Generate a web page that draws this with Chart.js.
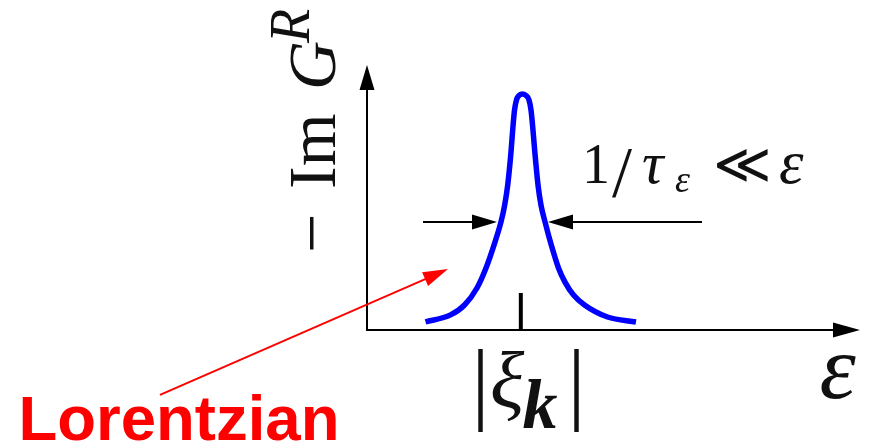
<!DOCTYPE html>
<html><head><meta charset="utf-8">
<script src="https://cdn.jsdelivr.net/npm/chart.js@4"></script>
<style>html,body{margin:0;padding:0;background:#fff;overflow:hidden}canvas{display:block}</style>
</head><body>
<canvas id="c" width="871" height="443"></canvas>
<script>
// ---- data (energy in arbitrary units, spectral weight normalised to peak) ----
const curveEnergy   = [1.187, 1.694, 1.978, 2.231, 2.414, 2.576, 2.718, 2.793, 2.854, 2.921, 2.955, 2.992, 3.032, 3.073, 3.154,
                       3.235, 3.286, 3.327, 3.367, 3.404, 3.469, 3.529, 3.611, 3.738, 3.884, 4.016, 4.189, 4.412, 4.878, 5.456];
const curveSpectral = [0.034, 0.064, 0.106, 0.178, 0.263, 0.360, 0.458, 0.530, 0.614, 0.754, 0.847, 0.932, 0.975, 0.992, 1.000,
                       0.992, 0.975, 0.932, 0.847, 0.754, 0.614, 0.530, 0.458, 0.360, 0.263, 0.203, 0.148, 0.106, 0.055, 0.034];
const peakEnergy = 3.12;          // |xi_k|
const peakTickHeight = 0.157;
const halfWidthLevel = 0.458;
const widthArrowTails = [1.136, 6.795];
const widthArrowTips  = [2.637, 3.671];
const pointerTail = [-4.199, -0.275];
const pointerTip  = [1.643, 0.258];
const xRange = [0, 10];
const yRange = [0, 1.123];

// ---- text ----
const yLabelParts = ['\u2212', 'Im', 'G', 'R'];
const widthLabelParts = ['1', '/', '\u03C4', '\u03B5', '\u226A', '\u03B5'];
const peakLabelParts = ['|', '\u03BE', 'k', '|'];
const xAxisLabel = '\u03B5';
const calloutLabel = 'Lorentzian';

const SERIF = "'Liberation Serif','DejaVu Serif',serif";

function arrow(ctx, x1, y1, x2, y2, len, half, color, lw) {
  const a = Math.atan2(y2 - y1, x2 - x1);
  const bx = x2 - Math.cos(a) * len, by = y2 - Math.sin(a) * len;
  ctx.save();
  ctx.strokeStyle = color; ctx.fillStyle = color; ctx.lineWidth = lw; ctx.lineCap = 'butt';
  ctx.beginPath(); ctx.moveTo(x1, y1); ctx.lineTo(bx + Math.cos(a) * 2, by + Math.sin(a) * 2); ctx.stroke();
  ctx.beginPath();
  ctx.moveTo(x2, y2);
  ctx.lineTo(bx + Math.sin(a) * half, by - Math.cos(a) * half);
  ctx.lineTo(bx - Math.sin(a) * half, by + Math.cos(a) * half);
  ctx.closePath(); ctx.fill();
  ctx.restore();
}
function runs(ctx, x, y, list) {
  list.forEach(r => {
    ctx.font = r.font; ctx.textAlign = r.align || 'left'; ctx.textBaseline = 'alphabetic';
    ctx.fillStyle = r.color || '#111';
    ctx.fillText(r.t, x + r.dx, y + (r.dy || 0));
  });
}

const decor = {
  id: 'decor',
  beforeDatasetsDraw(chart) {
    const ctx = chart.ctx, X = v => chart.scales.x.getPixelForValue(v), Y = v => chart.scales.y.getPixelForValue(v);
    arrow(ctx, X(xRange[0]) - 1, Y(0), X(xRange[1]), Y(0), 27, 7.5, '#000', 2);
    arrow(ctx, X(xRange[0]), Y(0) + 1, X(xRange[0]), Y(yRange[1]), 25, 7.5, '#000', 2);
  },
  afterDatasetsDraw(chart) {
    const ctx = chart.ctx, X = v => chart.scales.x.getPixelForValue(v), Y = v => chart.scales.y.getPixelForValue(v);
    for (let i = 0; i < 2; i++) {
      arrow(ctx, X(widthArrowTails[i]), Y(halfWidthLevel), X(widthArrowTips[i]), Y(halfWidthLevel), 25, 7.5, '#000', 2);
    }
    arrow(ctx, X(pointerTail[0]), Y(pointerTail[1]), X(pointerTip[0]), Y(pointerTip[1]), 25, 7.5, '#ff0000', 2);

    // y-axis label (rotated)
    ctx.save();
    ctx.translate(X(-0.649), Y(0.3305));
    ctx.rotate(-Math.PI / 2);
    runs(ctx, 0, 0, [
      { t: yLabelParts[0], font: `70px ${SERIF}`, dx: -1 },
      { t: yLabelParts[1], font: `68px ${SERIF}`, dx: 63 },
      { t: yLabelParts[2], font: `italic 68px ${SERIF}`, dx: 162 },
      { t: yLabelParts[3], font: `italic 56px ${SERIF}`, dx: 209, dy: -26 }
    ]);
    ctx.restore();

    // 1/tau << eps
    runs(ctx, X(4.361), Y(0.623), [
      { t: widthLabelParts[0], font: `56px ${SERIF}`, dx: 0 },
      { t: widthLabelParts[1], font: `72px ${SERIF}`, dx: 30, dy: 13 },
      { t: widthLabelParts[2], font: `italic 60px ${SERIF}`, dx: 60 },
      { t: widthLabelParts[3], font: `italic 38px ${SERIF}`, dx: 93, dy: 9 },
      { t: widthLabelParts[4], font: `56px ${SERIF}`, dx: 131 },
      { t: widthLabelParts[5], font: `italic 62px ${SERIF}`, dx: 197 }
    ]);

    // |xi_k|
    runs(ctx, X(2.252), Y(-0.326), [
      { t: peakLabelParts[0], font: `90px ${SERIF}`, dx: 2.5, dy: 6, align: 'center' },
      { t: peakLabelParts[1], font: `italic 80px ${SERIF}`, dx: 29, align: 'center' },
      { t: peakLabelParts[2], font: `italic bold 70px ${SERIF}`, dx: 62, dy: 21, align: 'center' },
      { t: peakLabelParts[3], font: `90px ${SERIF}`, dx: 98.5, dy: 6, align: 'center' }
    ]);

    // x-axis label
    runs(ctx, X(9.544), Y(-0.288), [
      { t: xAxisLabel, font: `italic 92px ${SERIF}`, dx: 0, align: 'center' }
    ]);

    // callout
    runs(ctx, X(-7.071), Y(-0.466), [
      { t: calloutLabel, font: "bold 63.5px 'Liberation Sans', Arial, sans-serif", dx: 0, color: '#ff0000' }
    ]);
  }
};

new Chart(document.getElementById('c'), {
  type: 'scatter',
  data: {
    datasets: [
      {
        data: curveEnergy.map((x, i) => ({ x, y: curveSpectral[i] })),
        showLine: true, borderColor: '#0000ff', borderWidth: 5.5, pointRadius: 0,
        cubicInterpolationMode: 'monotone', borderCapStyle: 'butt', borderJoinStyle: 'round', fill: false
      },
      {
        data: [{ x: peakEnergy, y: 0 }, { x: peakEnergy, y: peakTickHeight }],
        showLine: true, borderColor: '#000', borderWidth: 4, pointRadius: 0, borderCapStyle: 'butt'
      }
    ]
  },
  options: {
    responsive: false, animation: false, devicePixelRatio: 1,
    layout: { padding: { left: 367, right: 11, top: 65, bottom: 113 } },
    plugins: { legend: { display: false }, tooltip: { enabled: false } },
    scales: {
      x: { type: 'linear', min: xRange[0], max: xRange[1], display: false },
      y: { type: 'linear', min: yRange[0], max: yRange[1], display: false }
    }
  },
  plugins: [decor]
});
</script>
</body></html>
